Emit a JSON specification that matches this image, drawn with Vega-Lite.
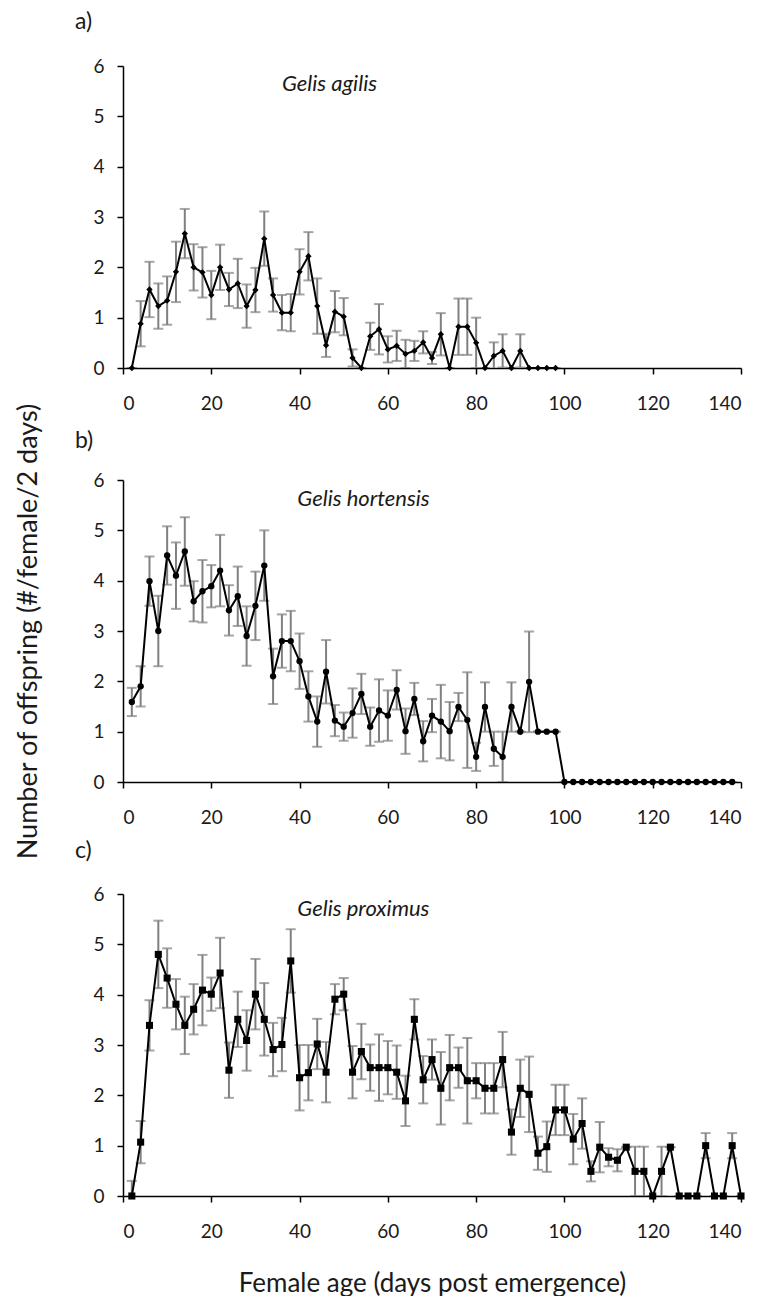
{
  "$schema": "https://vega.github.io/schema/vega-lite/v6.json",
  "background": "white",
  "padding": {"left": 14, "top": 11, "right": 5, "bottom": 0},
  "spacing": 112,
  "bounds": "flush",
  "config": {
    "font": "Lato",
    "view": {"stroke": null},
    "axis": {
      "grid": false,
      "domainColor": "black",
      "domainWidth": 1.5,
      "tickColor": "black",
      "tickWidth": 1.5,
      "tickSize": 6,
      "labelFontSize": 19,
      "labelColor": "#1a1a1a",
      "labelFont": "Lato",
      "titleFont": "Lato",
      "titleFontSize": 27,
      "titleFontWeight": "normal",
      "titleColor": "#1a1a1a"
    }
  },
  "datasets": {
    "a": [
      {"day": 2, "mean": 0, "se": 0}, {"day": 4, "mean": 0.88, "se": 0.45}, {"day": 6, "mean": 1.56, "se": 0.55},
      {"day": 8, "mean": 1.23, "se": 0.45}, {"day": 10, "mean": 1.34, "se": 0.48}, {"day": 12, "mean": 1.91, "se": 0.6},
      {"day": 14, "mean": 2.67, "se": 0.49}, {"day": 16, "mean": 2.0, "se": 0.46}, {"day": 18, "mean": 1.9, "se": 0.5},
      {"day": 20, "mean": 1.45, "se": 0.48}, {"day": 22, "mean": 2.0, "se": 0.45}, {"day": 24, "mean": 1.56, "se": 0.33},
      {"day": 26, "mean": 1.68, "se": 0.49}, {"day": 28, "mean": 1.23, "se": 0.43}, {"day": 30, "mean": 1.55, "se": 0.44},
      {"day": 32, "mean": 2.57, "se": 0.54}, {"day": 34, "mean": 1.45, "se": 0.33}, {"day": 36, "mean": 1.1, "se": 0.35},
      {"day": 38, "mean": 1.1, "se": 0.37}, {"day": 40, "mean": 1.91, "se": 0.45}, {"day": 42, "mean": 2.22, "se": 0.48},
      {"day": 44, "mean": 1.23, "se": 0.55}, {"day": 46, "mean": 0.45, "se": 0.23}, {"day": 48, "mean": 1.12, "se": 0.41},
      {"day": 50, "mean": 1.02, "se": 0.37}, {"day": 52, "mean": 0.2, "se": 0.17}, {"day": 54, "mean": 0, "se": 0},
      {"day": 56, "mean": 0.63, "se": 0.27}, {"day": 58, "mean": 0.77, "se": 0.5}, {"day": 60, "mean": 0.37, "se": 0.26},
      {"day": 62, "mean": 0.44, "se": 0.3}, {"day": 64, "mean": 0.28, "se": 0.28}, {"day": 66, "mean": 0.34, "se": 0.2},
      {"day": 68, "mean": 0.51, "se": 0.22}, {"day": 70, "mean": 0.2, "se": 0.12}, {"day": 72, "mean": 0.67, "se": 0.42},
      {"day": 74, "mean": 0, "se": 0}, {"day": 76, "mean": 0.82, "se": 0.56}, {"day": 78, "mean": 0.82, "se": 0.56},
      {"day": 80, "mean": 0.5, "se": 0.5}, {"day": 82, "mean": 0, "se": 0}, {"day": 84, "mean": 0.24, "se": 0.27},
      {"day": 86, "mean": 0.34, "se": 0.33}, {"day": 88, "mean": 0, "se": 0}, {"day": 90, "mean": 0.34, "se": 0.33},
      {"day": 92, "mean": 0, "se": 0}, {"day": 94, "mean": 0, "se": 0}, {"day": 96, "mean": 0, "se": 0},
      {"day": 98, "mean": 0, "se": 0}
    ],
    "b": [
      {"day": 2, "mean": 1.59, "se": 0.28}, {"day": 4, "mean": 1.9, "se": 0.4}, {"day": 6, "mean": 3.99, "se": 0.49},
      {"day": 8, "mean": 3.0, "se": 0.7}, {"day": 10, "mean": 4.5, "se": 0.58}, {"day": 12, "mean": 4.1, "se": 0.66},
      {"day": 14, "mean": 4.58, "se": 0.68}, {"day": 16, "mean": 3.59, "se": 0.4}, {"day": 18, "mean": 3.79, "se": 0.62},
      {"day": 20, "mean": 3.89, "se": 0.42}, {"day": 22, "mean": 4.2, "se": 0.71}, {"day": 24, "mean": 3.41, "se": 0.5},
      {"day": 26, "mean": 3.69, "se": 0.59}, {"day": 28, "mean": 2.9, "se": 0.59}, {"day": 30, "mean": 3.5, "se": 0.68},
      {"day": 32, "mean": 4.3, "se": 0.7}, {"day": 34, "mean": 2.1, "se": 0.55}, {"day": 36, "mean": 2.8, "se": 0.53},
      {"day": 38, "mean": 2.8, "se": 0.6}, {"day": 40, "mean": 2.4, "se": 0.55}, {"day": 42, "mean": 1.7, "se": 0.5},
      {"day": 44, "mean": 1.2, "se": 0.5}, {"day": 46, "mean": 2.19, "se": 0.63}, {"day": 48, "mean": 1.22, "se": 0.31},
      {"day": 50, "mean": 1.1, "se": 0.28}, {"day": 52, "mean": 1.37, "se": 0.49}, {"day": 54, "mean": 1.75, "se": 0.4},
      {"day": 56, "mean": 1.1, "se": 0.38}, {"day": 58, "mean": 1.42, "se": 0.62}, {"day": 60, "mean": 1.32, "se": 0.5},
      {"day": 62, "mean": 1.83, "se": 0.39}, {"day": 64, "mean": 1.01, "se": 0.45}, {"day": 66, "mean": 1.65, "se": 0.32},
      {"day": 68, "mean": 0.81, "se": 0.4}, {"day": 70, "mean": 1.32, "se": 0.33}, {"day": 72, "mean": 1.2, "se": 0.73},
      {"day": 74, "mean": 1.01, "se": 0.58}, {"day": 76, "mean": 1.49, "se": 0.28}, {"day": 78, "mean": 1.23, "se": 0.95},
      {"day": 80, "mean": 0.5, "se": 0.28}, {"day": 82, "mean": 1.49, "se": 0.49}, {"day": 84, "mean": 0.66, "se": 0.34},
      {"day": 86, "mean": 0.5, "se": 0.5}, {"day": 88, "mean": 1.49, "se": 0.49}, {"day": 90, "mean": 1.0, "se": 0},
      {"day": 92, "mean": 1.99, "se": 1.0}, {"day": 94, "mean": 1.0, "se": 0}, {"day": 96, "mean": 1.0, "se": 0},
      {"day": 98, "mean": 1.0, "se": 0}, {"day": 100, "mean": 0, "se": 0}, {"day": 102, "mean": 0, "se": 0},
      {"day": 104, "mean": 0, "se": 0}, {"day": 106, "mean": 0, "se": 0}, {"day": 108, "mean": 0, "se": 0},
      {"day": 110, "mean": 0, "se": 0}, {"day": 112, "mean": 0, "se": 0}, {"day": 114, "mean": 0, "se": 0},
      {"day": 116, "mean": 0, "se": 0}, {"day": 118, "mean": 0, "se": 0}, {"day": 120, "mean": 0, "se": 0},
      {"day": 122, "mean": 0, "se": 0}, {"day": 124, "mean": 0, "se": 0}, {"day": 126, "mean": 0, "se": 0},
      {"day": 128, "mean": 0, "se": 0}, {"day": 130, "mean": 0, "se": 0}, {"day": 132, "mean": 0, "se": 0},
      {"day": 134, "mean": 0, "se": 0}, {"day": 136, "mean": 0, "se": 0}, {"day": 138, "mean": 0, "se": 0}
    ],
    "c": [
      {"day": 2, "mean": 0, "se": 0.3}, {"day": 4, "mean": 1.07, "se": 0.42}, {"day": 6, "mean": 3.39, "se": 0.5},
      {"day": 8, "mean": 4.8, "se": 0.67}, {"day": 10, "mean": 4.33, "se": 0.59}, {"day": 12, "mean": 3.81, "se": 0.5},
      {"day": 14, "mean": 3.39, "se": 0.57}, {"day": 16, "mean": 3.71, "se": 0.5}, {"day": 18, "mean": 4.09, "se": 0.7},
      {"day": 20, "mean": 4.01, "se": 0.33}, {"day": 22, "mean": 4.43, "se": 0.7}, {"day": 24, "mean": 2.5, "se": 0.55},
      {"day": 26, "mean": 3.51, "se": 0.55}, {"day": 28, "mean": 3.09, "se": 0.6}, {"day": 30, "mean": 4.01, "se": 0.7},
      {"day": 32, "mean": 3.51, "se": 0.72}, {"day": 34, "mean": 2.91, "se": 0.53}, {"day": 36, "mean": 3.01, "se": 0.53},
      {"day": 38, "mean": 4.67, "se": 0.63}, {"day": 40, "mean": 2.35, "se": 0.65}, {"day": 42, "mean": 2.45, "se": 0.55},
      {"day": 44, "mean": 3.02, "se": 0.5}, {"day": 46, "mean": 2.46, "se": 0.6}, {"day": 48, "mean": 3.91, "se": 0.3},
      {"day": 50, "mean": 4.01, "se": 0.32}, {"day": 52, "mean": 2.46, "se": 0.52}, {"day": 54, "mean": 2.87, "se": 0.55},
      {"day": 56, "mean": 2.55, "se": 0.46}, {"day": 58, "mean": 2.55, "se": 0.66}, {"day": 60, "mean": 2.55, "se": 0.53},
      {"day": 62, "mean": 2.46, "se": 0.53}, {"day": 64, "mean": 1.89, "se": 0.5}, {"day": 66, "mean": 3.51, "se": 0.4},
      {"day": 68, "mean": 2.31, "se": 0.47}, {"day": 70, "mean": 2.71, "se": 0.4}, {"day": 72, "mean": 2.14, "se": 0.72},
      {"day": 74, "mean": 2.55, "se": 0.65}, {"day": 76, "mean": 2.55, "se": 0.4}, {"day": 78, "mean": 2.29, "se": 0.85},
      {"day": 80, "mean": 2.29, "se": 0.35}, {"day": 82, "mean": 2.14, "se": 0.5}, {"day": 84, "mean": 2.14, "se": 0.5},
      {"day": 86, "mean": 2.71, "se": 0.55}, {"day": 88, "mean": 1.27, "se": 0.45}, {"day": 90, "mean": 2.14, "se": 0.57},
      {"day": 92, "mean": 2.02, "se": 0.75}, {"day": 94, "mean": 0.85, "se": 0.33}, {"day": 96, "mean": 0.98, "se": 0.5},
      {"day": 98, "mean": 1.71, "se": 0.5}, {"day": 100, "mean": 1.71, "se": 0.5}, {"day": 102, "mean": 1.13, "se": 0.5},
      {"day": 104, "mean": 1.44, "se": 0.5}, {"day": 106, "mean": 0.49, "se": 0.2}, {"day": 108, "mean": 0.97, "se": 0.5},
      {"day": 110, "mean": 0.77, "se": 0.18}, {"day": 112, "mean": 0.71, "se": 0.22}, {"day": 114, "mean": 0.97, "se": 0},
      {"day": 116, "mean": 0.49, "se": 0.49}, {"day": 118, "mean": 0.49, "se": 0.49}, {"day": 120, "mean": 0, "se": 0},
      {"day": 122, "mean": 0.49, "se": 0.49}, {"day": 124, "mean": 0.97, "se": 0}, {"day": 126, "mean": 0, "se": 0},
      {"day": 128, "mean": 0, "se": 0}, {"day": 130, "mean": 0, "se": 0}, {"day": 132, "mean": 1.0, "se": 0.25},
      {"day": 134, "mean": 0, "se": 0}, {"day": 136, "mean": 0, "se": 0}, {"day": 138, "mean": 1.0, "se": 0.25},
      {"day": 140, "mean": 0, "se": 0}
    ]
  },
  "vconcat": [
    {
      "width": 618, "height": 302,
      "data": {"name": "a"},
      "encoding": {
        "x": {"field": "day", "type": "quantitative", "scale": {"domain": [0, 140], "nice": false},
              "axis": {"values": [0, 20, 40, 60, 80, 100, 120, 140], "title": null, "labelPadding": 20}}
      },
      "layer": [
        {"mark": {"type": "errorbar", "ticks": true, "size": 10, "thickness": 2, "color": "#808080", "clip": true},
         "encoding": {"y": {"field": "mean", "type": "quantitative", "scale": {"domain": [0, 6], "nice": false},
                            "axis": {"values": [0, 1, 2, 3, 4, 5, 6], "title": null, "labelPadding": 13}},
                      "yError": {"field": "se"}}},
        {"mark": {"type": "line", "color": "black", "strokeWidth": 2},
         "encoding": {"y": {"field": "mean", "type": "quantitative"}}},
        {"mark": {"type": "point", "shape": "diamond", "filled": true, "color": "black", "opacity": 1, "size": 40},
         "encoding": {"y": {"field": "mean", "type": "quantitative"}}},
        {"transform": [{"filter": "datum.day == 2"}],
         "mark": {"type": "text", "text": "Gelis agilis", "font": "Lato", "fontStyle": "italic", "fontSize": 22, "align": "left", "baseline": "middle", "color": "#1a1a1a"},
         "encoding": {"x": {"datum": 36}, "y": {"datum": 5.65}}},
        {"transform": [{"filter": "datum.day == 2"}],
         "mark": {"type": "text", "text": "a)", "font": "Lato", "fontSize": 23, "align": "left", "baseline": "middle", "color": "#1a1a1a"},
         "encoding": {"x": {"datum": -10.9}, "y": {"datum": 6.87}}}
      ]
    },
    {
      "width": 618, "height": 302,
      "data": {"name": "b"},
      "encoding": {
        "x": {"field": "day", "type": "quantitative", "scale": {"domain": [0, 140], "nice": false},
              "axis": {"values": [0, 20, 40, 60, 80, 100, 120, 140], "title": null, "labelPadding": 20}}
      },
      "layer": [
        {"mark": {"type": "errorbar", "ticks": true, "size": 10, "thickness": 2, "color": "#808080", "clip": true},
         "encoding": {"y": {"field": "mean", "type": "quantitative", "scale": {"domain": [0, 6], "nice": false},
                            "axis": {"values": [0, 1, 2, 3, 4, 5, 6], "title": "Number of offspring  (#/female/2 days)", "labelPadding": 13, "titlePadding": 50}},
                      "yError": {"field": "se"}}},
        {"mark": {"type": "line", "color": "black", "strokeWidth": 2},
         "encoding": {"y": {"field": "mean", "type": "quantitative"}}},
        {"mark": {"type": "point", "shape": "circle", "filled": true, "color": "black", "opacity": 1, "size": 40},
         "encoding": {"y": {"field": "mean", "type": "quantitative"}}},
        {"transform": [{"filter": "datum.day == 2"}],
         "mark": {"type": "text", "text": "Gelis hortensis", "font": "Lato", "fontStyle": "italic", "fontSize": 22, "align": "left", "baseline": "middle", "color": "#1a1a1a"},
         "encoding": {"x": {"datum": 39.5}, "y": {"datum": 5.62}}},
        {"transform": [{"filter": "datum.day == 2"}],
         "mark": {"type": "text", "text": "b)", "font": "Lato", "fontSize": 23, "align": "left", "baseline": "middle", "color": "#1a1a1a"},
         "encoding": {"x": {"datum": -10.9}, "y": {"datum": 6.77}}}
      ]
    },
    {
      "width": 618, "height": 302,
      "data": {"name": "c"},
      "encoding": {
        "x": {"field": "day", "type": "quantitative", "scale": {"domain": [0, 140], "nice": false},
              "axis": {"values": [0, 20, 40, 60, 80, 100, 120, 140], "title": "Female age (days post emergence)", "labelPadding": 20, "titlePadding": 29, "titleFontSize": 26}}
      },
      "layer": [
        {"mark": {"type": "errorbar", "ticks": true, "size": 10, "thickness": 2, "color": "#808080", "clip": true},
         "encoding": {"y": {"field": "mean", "type": "quantitative", "scale": {"domain": [0, 6], "nice": false},
                            "axis": {"values": [0, 1, 2, 3, 4, 5, 6], "title": null, "labelPadding": 13}},
                      "yError": {"field": "se"}}},
        {"mark": {"type": "line", "color": "black", "strokeWidth": 2},
         "encoding": {"y": {"field": "mean", "type": "quantitative"}}},
        {"mark": {"type": "square", "filled": true, "color": "black", "opacity": 1, "size": 50},
         "encoding": {"y": {"field": "mean", "type": "quantitative"}}},
        {"transform": [{"filter": "datum.day == 2"}],
         "mark": {"type": "text", "text": "Gelis proximus", "font": "Lato", "fontStyle": "italic", "fontSize": 22, "align": "left", "baseline": "middle", "color": "#1a1a1a"},
         "encoding": {"x": {"datum": 39.5}, "y": {"datum": 5.7}}},
        {"transform": [{"filter": "datum.day == 2"}],
         "mark": {"type": "text", "text": "c)", "font": "Lato", "fontSize": 23, "align": "left", "baseline": "middle", "color": "#1a1a1a"},
         "encoding": {"x": {"datum": -10.9}, "y": {"datum": 6.85}}}
      ]
    }
  ]
}
